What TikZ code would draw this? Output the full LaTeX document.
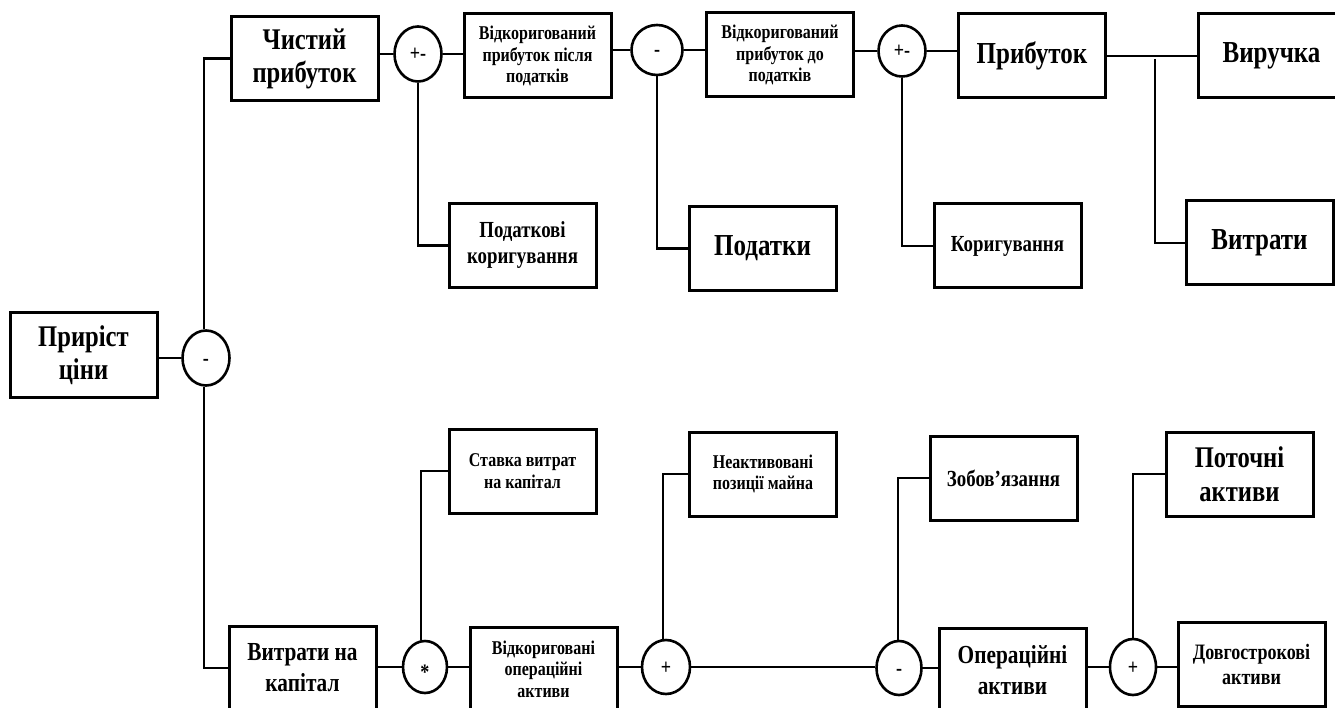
\documentclass[tikz,border=0pt]{standalone}
\usepackage{fontspec}
\setmainfont[FakeStretch=0.82]{Liberation Serif}
\usetikzlibrary{shapes.geometric}
\tikzset{
  blk/.style={draw, line width=3pt, minimum width=147pt, minimum height=84pt,
              inner sep=2pt, align=center},
  big/.style={font=\bfseries\fontsize{30.5}{35}\selectfont},
  mid/.style={font=\bfseries\fontsize{30}{33}\selectfont},
  lrg/.style={font=\bfseries\fontsize{26}{31}\selectfont},
  sml/.style={font=\bfseries\fontsize{19.5}{21.5}\selectfont},
  msm/.style={font=\bfseries\fontsize{23}{26}\selectfont},
  op/.style={draw, ellipse, line width=2.6pt, minimum width=47pt, minimum height=55pt,
             inner sep=0pt, text height=15pt, text depth=1pt,
             font=\bfseries\fontsize{22}{22}\selectfont},
  wire/.style={line width=2.8pt},
}
\begin{document}
\begin{tikzpicture}[x=1pt,y=-1pt]
\useasboundingbox (0,0) rectangle (1335,708);

% ---- top chain: profit side ----
\node[blk,mid] (pr)   at (83.5,355)  {Приріст\\ціни};
\node[op]      (c1)   at (206,358)   {-};
\node[blk,mid] (cp)   at (304.5,58.5){Чистий\\прибуток};
\node[op]      (c2)   at (418,54)    {+-};
\node[blk,sml] (vpp)  at (537.5,56)  {Відкоригований\\прибуток після\\податків};
\node[op,minimum width=51pt,minimum height=50pt] (c3) at (657,50) {-};
\node[blk,sml] (vpd)  at (780,55)    {Відкоригований\\прибуток до\\податків};
\node[op,minimum height=51pt] (c4) at (902,51) {+-};
\node[blk,big] (prib) at (1032,56)   {Прибуток};
\node[blk,big] (vyr)  at (1271.5,56) {Виручка};

\node[blk,msm] (ptk)  at (522.5,245.5){Податкові\\коригування};
\node[blk,big] (pod)  at (762.5,248.5){Податки};
\node[blk,msm] (kor)  at (1007.5,246) {Коригування};
\node[blk,big] (vyt)  at (1259.5,243) {Витрати};

% ---- bottom chain: capital side ----
\node[blk,lrg] (vk)   at (302.5,668) {Витрати на\\капітал};
\node[op,minimum width=44pt,minimum height=52pt] (c5) at (425,667) {\raisebox{-0.25em}{*}};
\node[blk,sml] (voa)  at (543.5,669) {Відкориговані\\операційні\\активи};
\node[op,minimum width=48pt,minimum height=54pt] (c6) at (666,667) {+};
\node[op,minimum width=45pt,minimum height=54pt] (c7) at (899,668) {-};
\node[blk,lrg] (oa)   at (1012.5,670) {Операційні\\активи};
\node[op,minimum width=46pt,minimum height=56pt] (c8) at (1133,667) {+};
\node[blk,font=\bfseries\fontsize{22}{25}\selectfont] (da) at (1251.5,664.5) {Довгострокові\\активи};

\node[blk,sml] (st)   at (522.5,471) {Ставка витрат\\на капітал};
\node[blk,sml] (nea)  at (763,474)   {Неактивовані\\позиції майна};
\node[blk,msm] (zob)  at (1003.5,478){Зобов’язання};
\node[blk,font=\bfseries\fontsize{30}{34}\selectfont] (pa) at (1239.5,474) {Поточні\\активи};

% ---- connectors, top ----
\draw[wire] (c1.west) -- (c1.west -| pr.east);
\draw[wire] ([xshift=-2pt]c1.north) |- (cp.west);
\draw[wire] ([xshift=-2pt]c1.south) |- (vk.west);
\draw[wire] (c2.west) -- (c2.west -| cp.east);
\draw[wire] (c2.east) -- (c2.east -| vpp.west);
\draw[wire] (c2.south) |- (ptk.west);
\draw[wire] (c3.west) -- (c3.west -| vpp.east);
\draw[wire] (c3.east) -- (c3.east -| vpd.west);
\draw[wire] (c3.south) |- (pod.west);
\draw[wire] (c4.west) -- (c4.west -| vpd.east);
\draw[wire] (c4.east) -- (c4.east -| prib.west);
\draw[wire] (c4.south) |- (kor.west);
\draw[wire] (prib.east) -- (prib.east -| vyr.west);
\coordinate (jr) at (1155,59);
\draw[wire] (jr) |- (vyt.west);

% ---- connectors, bottom ----
\draw[wire] (c5.west) -- (c5.west -| vk.east);
\draw[wire] ([xshift=-4pt]c5.north) |- (st.west);
\draw[wire] (c5.east) -- (c5.east -| voa.west);
\draw[wire] (c6.west) -- (c6.west -| voa.east);
\draw[wire] ([xshift=-3pt]c6.north) |- (nea.west);
\draw[wire] (c6.east) -- (c6.east -| c7.west);
\draw[wire] ([xshift=-1pt]c7.north) |- (zob.west);
\draw[wire] (c7.east) -- (c7.east -| oa.west);
\draw[wire] (c8.west) -- (c8.west -| oa.east);
\draw[wire] (c8.north) |- (pa.west);
\draw[wire] (c8.east) -- (c8.east -| da.west);
\end{tikzpicture}
\end{document}
